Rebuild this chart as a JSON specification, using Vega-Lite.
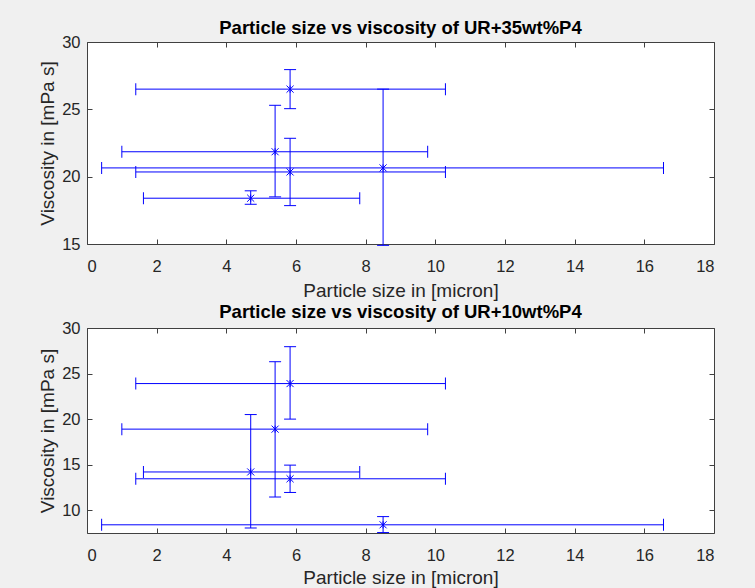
{
  "$schema": "https://vega.github.io/schema/vega-lite/v6.json",
  "background": "#f0f0f0",
  "padding": {"left": 38, "top": 18, "right": 50, "bottom": 0},
  "spacing": 1,
  "config": {
    "font": "Liberation Sans",
    "view": {"fill": "white", "stroke": null},
    "title": {"fontSize": 18.5, "fontWeight": "bold", "color": "#000000", "offset": -3, "anchor": "middle"},
    "axis": {"grid": false, "domainColor": "#404040", "tickColor": "#404040", "labelColor": "#262626", "titleColor": "#262626", "labelFontSize": 16.5, "titleFontSize": 19, "titleFontWeight": "normal", "tickSize": -5, "domainWidth": 1, "tickWidth": 1, "labelPadding": 12}
  },
  "datasets": {
    "top": [
      {"x": 5.83, "y": 26.5, "xlo": 1.4, "xhi": 10.29, "ylo": 25.05, "yhi": 27.95},
      {"x": 5.4, "y": 21.85, "xlo": 1.0, "xhi": 9.78, "ylo": 18.5, "yhi": 25.3},
      {"x": 5.83, "y": 20.35, "xlo": 1.4, "xhi": 10.29, "ylo": 17.85, "yhi": 22.85},
      {"x": 8.5, "y": 20.65, "xlo": 0.42, "xhi": 16.55, "ylo": 14.9, "yhi": 26.5},
      {"x": 4.7, "y": 18.4, "xlo": 1.62, "xhi": 7.83, "ylo": 17.95, "yhi": 18.95}
    ],
    "bottom": [
      {"x": 5.83, "y": 23.9, "xlo": 1.4, "xhi": 10.29, "ylo": 20.0, "yhi": 27.95},
      {"x": 5.4, "y": 18.9, "xlo": 1.0, "xhi": 9.78, "ylo": 11.45, "yhi": 26.3},
      {"x": 4.7, "y": 14.2, "xlo": 1.62, "xhi": 7.83, "ylo": 8.05, "yhi": 20.5},
      {"x": 5.83, "y": 13.45, "xlo": 1.4, "xhi": 10.29, "ylo": 11.95, "yhi": 14.95},
      {"x": 8.5, "y": 8.4, "xlo": 0.42, "xhi": 16.55, "ylo": 7.55, "yhi": 9.3}
    ]
  },
  "vconcat": [
    {
      "data": {"name": "top"},
      "width": 627,
      "height": 202,
      "title": "Particle size vs viscosity of UR+35wt%P4",
      "resolve": {"axis": {"x": "independent", "y": "independent"}},
      "layer": [
        {
          "mark": {"type": "rule", "color": "#0000ff", "strokeWidth": 1},
          "encoding": {
            "x": {"field": "xlo", "type": "quantitative", "scale": {"domain": [0, 18], "nice": false, "zero": false}, "axis": {"orient": "bottom", "values": [0, 2, 4, 6, 8, 10, 12, 14, 16, 18], "title": "Particle size in [micron]", "labelPadding": 19, "titlePadding": 7}},
            "x2": {"field": "xhi"},
            "y": {"field": "y", "type": "quantitative", "scale": {"domain": [15, 30], "nice": false, "zero": false}, "axis": {"orient": "left", "values": [15, 20, 25, 30], "title": "Viscosity in [mPa s]", "titlePadding": 4}}
          }
        },
        {
          "mark": {"type": "rule", "color": "#0000ff", "strokeWidth": 1},
          "encoding": {
            "x": {"field": "x", "type": "quantitative", "axis": null},
            "y": {"field": "ylo", "type": "quantitative", "axis": null},
            "y2": {"field": "yhi"}
          }
        },
        {
          "mark": {"type": "tick", "orient": "vertical", "color": "#0000ff", "size": 12, "thickness": 1, "opacity": 1},
          "encoding": {
            "x": {"field": "xlo", "type": "quantitative", "axis": null},
            "y": {"field": "y", "type": "quantitative", "axis": null}
          }
        },
        {
          "mark": {"type": "tick", "orient": "vertical", "color": "#0000ff", "size": 12, "thickness": 1, "opacity": 1},
          "encoding": {
            "x": {"field": "xhi", "type": "quantitative", "axis": null},
            "y": {"field": "y", "type": "quantitative", "axis": null}
          }
        },
        {
          "mark": {"type": "tick", "orient": "horizontal", "color": "#0000ff", "size": 12, "thickness": 1, "opacity": 1},
          "encoding": {
            "x": {"field": "x", "type": "quantitative", "axis": null},
            "y": {"field": "ylo", "type": "quantitative", "axis": null}
          }
        },
        {
          "mark": {"type": "tick", "orient": "horizontal", "color": "#0000ff", "size": 12, "thickness": 1, "opacity": 1},
          "encoding": {
            "x": {"field": "x", "type": "quantitative", "axis": null},
            "y": {"field": "yhi", "type": "quantitative", "axis": null}
          }
        },
        {
          "mark": {"type": "point", "shape": "M-1,-1L1,1M-1,1L1,-1M0,-1L0,1", "filled": false, "color": "#0000ff", "size": 50, "strokeWidth": 1, "opacity": 1},
          "encoding": {
            "x": {"field": "x", "type": "quantitative", "axis": null},
            "y": {"field": "y", "type": "quantitative", "axis": null}
          }
        },
        {
          "mark": {"type": "point", "opacity": 0},
          "encoding": {
            "x": {"field": "x", "type": "quantitative", "axis": {"orient": "top", "values": [0, 2, 4, 6, 8, 10, 12, 14, 16, 18], "labels": false, "title": null}},
            "y": {"field": "y", "type": "quantitative", "axis": {"orient": "right", "values": [15, 20, 25, 30], "labels": false, "title": null}}
          }
        }
      ]
    },
    {
      "data": {"name": "bottom"},
      "width": 627,
      "height": 205,
      "title": {"text": "Particle size vs viscosity of UR+10wt%P4", "offset": -1},
      "resolve": {"axis": {"x": "independent", "y": "independent"}},
      "layer": [
        {
          "mark": {"type": "rule", "color": "#0000ff", "strokeWidth": 1},
          "encoding": {
            "x": {"field": "xlo", "type": "quantitative", "scale": {"domain": [0, 18], "nice": false, "zero": false}, "axis": {"orient": "bottom", "values": [0, 2, 4, 6, 8, 10, 12, 14, 16, 18], "title": "Particle size in [micron]", "labelPadding": 19, "titlePadding": 5}},
            "x2": {"field": "xhi"},
            "y": {"field": "y", "type": "quantitative", "scale": {"domain": [7.5, 30], "nice": false, "zero": false}, "axis": {"orient": "left", "values": [10, 15, 20, 25, 30], "title": "Viscosity in [mPa s]", "titlePadding": 4}}
          }
        },
        {
          "mark": {"type": "rule", "color": "#0000ff", "strokeWidth": 1},
          "encoding": {
            "x": {"field": "x", "type": "quantitative", "axis": null},
            "y": {"field": "ylo", "type": "quantitative", "axis": null},
            "y2": {"field": "yhi"}
          }
        },
        {
          "mark": {"type": "tick", "orient": "vertical", "color": "#0000ff", "size": 12, "thickness": 1, "opacity": 1},
          "encoding": {
            "x": {"field": "xlo", "type": "quantitative", "axis": null},
            "y": {"field": "y", "type": "quantitative", "axis": null}
          }
        },
        {
          "mark": {"type": "tick", "orient": "vertical", "color": "#0000ff", "size": 12, "thickness": 1, "opacity": 1},
          "encoding": {
            "x": {"field": "xhi", "type": "quantitative", "axis": null},
            "y": {"field": "y", "type": "quantitative", "axis": null}
          }
        },
        {
          "mark": {"type": "tick", "orient": "horizontal", "color": "#0000ff", "size": 12, "thickness": 1, "opacity": 1},
          "encoding": {
            "x": {"field": "x", "type": "quantitative", "axis": null},
            "y": {"field": "ylo", "type": "quantitative", "axis": null}
          }
        },
        {
          "mark": {"type": "tick", "orient": "horizontal", "color": "#0000ff", "size": 12, "thickness": 1, "opacity": 1},
          "encoding": {
            "x": {"field": "x", "type": "quantitative", "axis": null},
            "y": {"field": "yhi", "type": "quantitative", "axis": null}
          }
        },
        {
          "mark": {"type": "point", "shape": "M-1,-1L1,1M-1,1L1,-1M0,-1L0,1", "filled": false, "color": "#0000ff", "size": 50, "strokeWidth": 1, "opacity": 1},
          "encoding": {
            "x": {"field": "x", "type": "quantitative", "axis": null},
            "y": {"field": "y", "type": "quantitative", "axis": null}
          }
        },
        {
          "mark": {"type": "point", "opacity": 0},
          "encoding": {
            "x": {"field": "x", "type": "quantitative", "axis": {"orient": "top", "values": [0, 2, 4, 6, 8, 10, 12, 14, 16, 18], "labels": false, "title": null}},
            "y": {"field": "y", "type": "quantitative", "axis": {"orient": "right", "values": [10, 15, 20, 25, 30], "labels": false, "title": null}}
          }
        }
      ]
    }
  ]
}
